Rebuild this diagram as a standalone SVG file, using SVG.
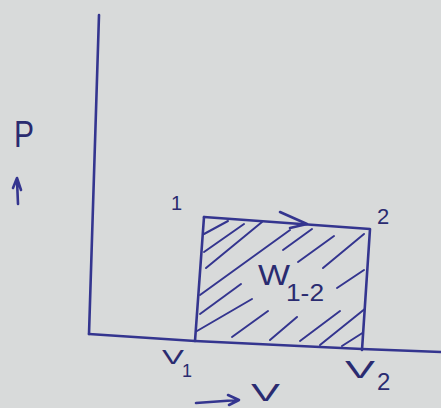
<svg xmlns="http://www.w3.org/2000/svg" width="441" height="408" viewBox="0 0 441 408">
<style>
.ink{fill:none;stroke:#34358f;stroke-width:2.6;stroke-linecap:round;stroke-linejoin:round}
.hatch{fill:none;stroke:#34358f;stroke-width:2;stroke-linecap:round}
.t{fill:#2a2b70;font-family:"Liberation Sans",Arial,sans-serif}
</style>
<defs>
<clipPath id="rectclip"><path d="M204,217 L370,229 L362,350 L195,341 Z"/></clipPath>
</defs>
<rect width="441" height="408" fill="#d8dada"/>
<g id="axes">
<path class="ink" d="M99,15 L89,334"/>
<path class="ink" d="M89,334 L195,341 L362,349 L441,352"/>
</g>
<g id="area">
<g clip-path="url(#rectclip)" class="hatch">
<path d="M204,234 L228,221"/>
<path d="M204,252 L244,224"/>
<path d="M206,268 L262,222"/>
<path d="M200,295 L290,230"/>
<path d="M283,250 L312,229"/>
<path d="M298,262 L334,236"/>
<path d="M323,268 L364,234"/>
<path d="M337,288 L364,270"/>
<path d="M200,314 L241,284"/>
<path d="M197,331 L252,299"/>
<path d="M232,337 L268,311"/>
<path d="M270,340 L297,317"/>
<path d="M300,341 L340,311"/>
<path d="M320,345 L366,308"/>
<path d="M342,346 L364,332"/>
</g>
<path class="ink" d="M204,217 L370,229 L362,350"/>
<path class="ink" d="M204,217 L195,341"/>
<path class="ink" d="M280,212 L307,224 L290,228"/>
</g>
<g id="labels">
<text class="t" x="14" y="147" font-size="36" textLength="20" lengthAdjust="spacingAndGlyphs">P</text>
<path class="ink" d="M18,204 L17,180 M13,188 L17,178 L21,190"/>
<text class="t" x="171" y="210" font-size="20">1</text>
<text class="t" x="377" y="224" font-size="22">2</text>
<text class="t" x="258" y="285" font-size="30" textLength="32" lengthAdjust="spacingAndGlyphs">W</text>
<text class="t" x="286" y="301" font-size="24" textLength="38" lengthAdjust="spacingAndGlyphs">1-2</text>
<text class="t" x="162" y="364" font-size="20" textLength="22" lengthAdjust="spacingAndGlyphs">V</text>
<text class="t" x="182" y="377" font-size="18">1</text>
<text class="t" x="345" y="378" font-size="24" textLength="30" lengthAdjust="spacingAndGlyphs">V</text>
<text class="t" x="377" y="390" font-size="24">2</text>
<path class="ink" d="M196,403 L238,400 M228,395 L239,400 L229,405"/>
<text class="t" x="251" y="401" font-size="24" textLength="29" lengthAdjust="spacingAndGlyphs">V</text>
</g>
</svg>
